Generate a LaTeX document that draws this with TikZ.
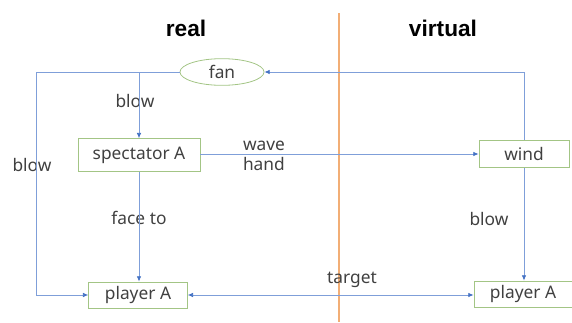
\documentclass[tikz,border=0pt]{standalone}
\usepackage{fontspec}
\setmainfont{Noto Sans}
\newfontfamily\titlefont{Liberation Sans}
\usetikzlibrary{arrows.meta,shapes.geometric,positioning,calc}
\definecolor{cLink}{HTML}{7F9FD9}
\definecolor{cTip}{HTML}{4472C4}
\definecolor{cBox}{HTML}{A3C585}
\definecolor{cSplit}{HTML}{F2AE76}
\definecolor{cText}{HTML}{404040}
\tikzset{
  every picture/.style={line width=0.6pt},
  sbox/.style={draw=cBox, rectangle, inner sep=0pt, text=cText,
               font=\fontsize{13pt}{15pt}\selectfont},
  sfan/.style={sbox, ellipse},
  slink/.style={draw=cLink, -{Latex[length=4pt,width=3.5pt,color=cTip]}},
  sboth/.style={slink, {Latex[length=4pt,width=3.5pt,color=cTip]}-{Latex[length=4pt,width=3.5pt,color=cTip]}},
  slabel/.style={text=cText, inner sep=0pt, font=\fontsize{13pt}{15pt}\selectfont},
  stitle/.style={text=black, inner sep=0pt, font=\titlefont\fontsize{17pt}{20pt}\selectfont\bfseries},
  ssplit/.style={draw=cSplit, line width=0.9pt},
}

\begin{document}
\begin{tikzpicture}[x=0.75pt,y=-0.75pt]
  \useasboundingbox (0,0) rectangle (572,322);
  % titles and the real / virtual split
  \node[stitle] (tReal) at (186,28) {real};
  \node[stitle] (tVirt) at (443,28) {virtual};
  \coordinate (splitTop) at (339,13);
  \coordinate (splitBot) at (339,322);
  \draw[ssplit] (splitTop) -- (splitBot);
  % labels (lines pass over them)
  \node[slabel] (lBlowL) at (32,165) {blow};
  \node[slabel] (lBlowF) at (135,101) {blow};
  \node[slabel] (lFace) at (139,218) {face to};
  \node[slabel, align=left] (lWave) at (264,156) {wave\\hand};
  \node[slabel] (lBlowR) at (489,219) {blow};
  \node[slabel] (lTarget) at (352,280) {target};
  % nodes
  \node[sfan, minimum width=63pt, minimum height=20pt] (fan) at (222,72) {fan};
  \node[sbox, minimum width=91.5pt, minimum height=24.5pt] (spec) at (139,155) {spectator A};
  \node[sbox, minimum width=67.5pt, minimum height=20.5pt] (wind) at (524,154) {wind};
  \node[sbox, minimum width=74pt, minimum height=19.5pt] (pA) at (138,295) {player A};
  \node[sbox, minimum width=73.5pt, minimum height=19.5pt] (pB) at (523,294) {player A};
  % connectors
  \coordinate (cornerL) at (36,72);
  \draw[slink] (fan.west) -- (cornerL) |- (pA.west);
  \draw[slink] (spec.north |- fan.west) -- (spec.north);
  \draw[slink] (spec.south) -- (spec.south |- pA.north);
  \draw[slink] (spec.east |- wind.west) -- (wind.west);
  \draw[slink] (wind.north) |- (fan.east);
  \draw[slink] (wind.south) -- (wind.south |- pB.north);
  \draw[sboth] (pA.east) -- (pA.east -| pB.west);
\end{tikzpicture}
\end{document}
